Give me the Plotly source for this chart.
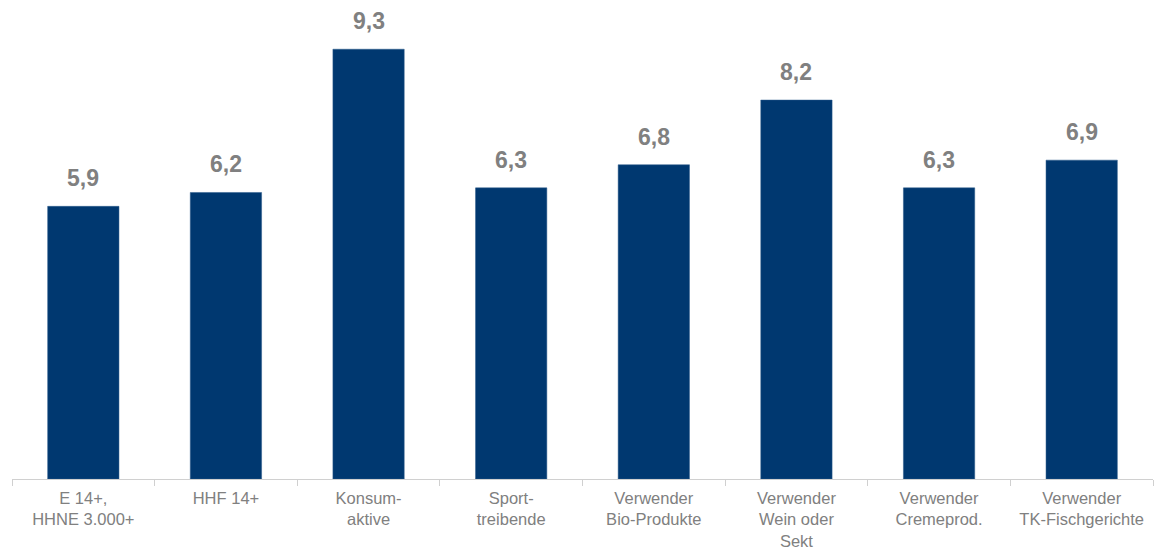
import plotly.graph_objects as go

categories = ["E 14+,<br>HHNE 3.000+", "HHF 14+", "Konsum-<br>aktive", "Sport-<br>treibende",
              "Verwender<br>Bio-Produkte", "Verwender<br>Wein oder<br>Sekt", "Verwender<br>Cremeprod.",
              "Verwender<br>TK-Fischgerichte"]
values = [5.9, 6.2, 9.3, 6.3, 6.8, 8.2, 6.3, 6.9]
value_labels = [f"{v:.1f}".replace(".", ",") for v in values]

fig = go.Figure()
fig.add_trace(go.Bar(
    x=categories, y=values,
    marker=dict(color="#003870", line=dict(color="#2a5a8a", width=0.5)),
    width=0.5,
    hoverinfo="skip",
))
for c, v, t in zip(categories, values, value_labels):
    fig.add_annotation(x=c, y=v, text=f"<b>{t}</b>", showarrow=False,
                       yanchor="bottom", yshift=13,
                       font=dict(family="Liberation Sans, Arial, sans-serif", size=23, color="#808080"))

fig.update_layout(
    width=1155, height=552,
    margin=dict(l=12, r=2, t=3, b=73, autoexpand=False),
    paper_bgcolor="white", plot_bgcolor="white",
    showlegend=False,
    font=dict(family="Liberation Sans, Arial, sans-serif"),
    xaxis=dict(
        automargin=False,
        showline=True, linecolor="#d0d0d0", linewidth=1,
        ticks="outside", tickson="boundaries", ticklen=6, tickcolor="#d0d0d0",
        tickfont=dict(size=16.5, color="#808080"),
        ticklabelstandoff=4,
        showgrid=False,
    ),
    yaxis=dict(range=[0, 10.3], visible=False, showgrid=False, automargin=False),
)
fig.write_html("out.html", config={"displayModeBar": False, "staticPlot": True},
               post_script="document.body.style.margin='0px';document.body.style.overflow='hidden';")
